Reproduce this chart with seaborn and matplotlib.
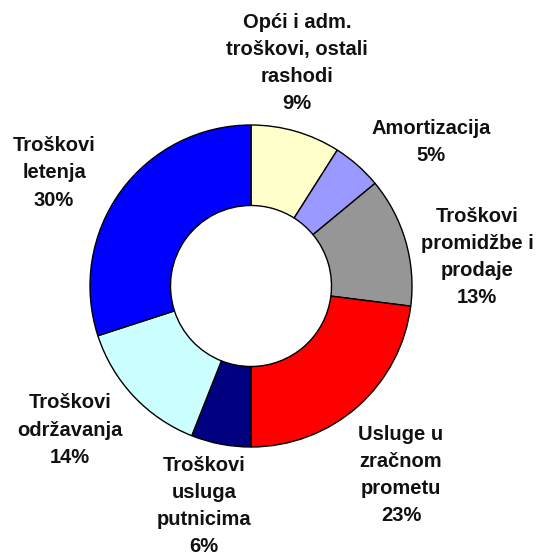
import matplotlib
matplotlib.use("Agg")
import matplotlib.pyplot as plt
import seaborn as sns

categories = [
    "Opći i adm.\ntroškovi, ostali\nrashodi",
    "Amortizacija",
    "Troškovi\npromidžbe i\nprodaje",
    "Usluge u\nzračnom\nprometu",
    "Troškovi\nusluga\nputnicima",
    "Troškovi\nodržavanja",
    "Troškovi\nletenja",
]
values = [9, 5, 13, 23, 6, 14, 30]
colors = ["#FFFFCC", "#9999FF", "#969696", "#FF0000", "#000080", "#CCFFFF", "#0000FF"]

# label layout (image pixel coordinates of each label block centre)
label_pos = [(297, 63), (431, 142), (477, 257), (401, 475), (204, 506), (70, 430), (54, 173)]

sns.set_theme(style="white")
plt.rcParams["font.family"] = ["Liberation Sans", "DejaVu Sans"]

W, H = 537, 559
fig = plt.figure(figsize=(W / 100, H / 100), dpi=100)
ax = fig.add_axes([0, 0, 1, 1])

cx, cy, r = 251, H - 286, 161
ax.pie(values, colors=colors, startangle=90, counterclock=False,
       center=(cx, cy), radius=r,
       wedgeprops=dict(width=r * 0.5, edgecolor="black", linewidth=1.0),
       frame=True)
ax.set_xlim(0, W)
ax.set_ylim(0, H)
ax.set_aspect("equal")
ax.axis("off")

for cat, v, (x, y) in zip(categories, values, label_pos):
    ax.text(x, H - y, f"{cat}\n{v}%", ha="center", va="center",
            fontsize=14.5, fontweight="bold", linespacing=1.55, color="#111111")

fig.savefig("out.png", dpi=100)
